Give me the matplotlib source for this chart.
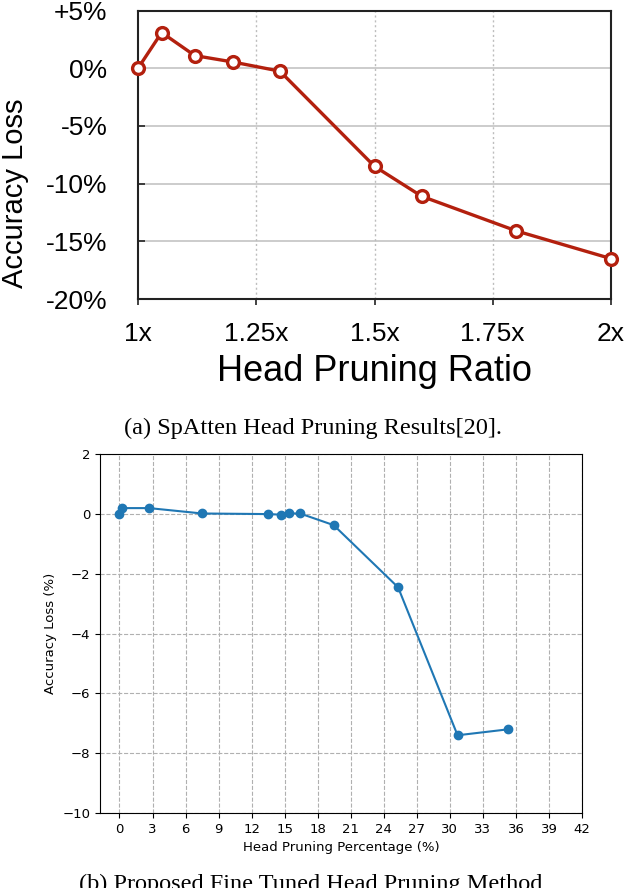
import matplotlib
matplotlib.use("Agg")
import matplotlib.pyplot as plt
import numpy as np

# ---- data (a) SpAtten ----
ratio_x = [1.0, 1.05, 1.12, 1.2, 1.3, 1.5, 1.6, 1.8, 2.0]
spatten_loss = [0.0, 3.1, 1.1, 0.55, -0.25, -8.5, -11.1, -14.1, -16.5]
ratio_ticks = [1.0, 1.25, 1.5, 1.75, 2.0]
ratio_labels = ["1x", "1.25x", "1.5x", "1.75x", "2x"]
loss_ticks_a = [5, 0, -5, -10, -15, -20]
loss_labels_a = ["+5%", "0%", "-5%", "-10%", "-15%", "-20%"]

# ---- data (b) proposed ----
pct_x = [0.0, 0.27, 2.7, 7.5, 13.5, 14.7, 15.4, 16.4, 19.45, 25.3, 30.7, 35.3]
proposed_loss = [0.0, 0.2, 0.2, 0.02, 0.0, -0.02, 0.02, 0.02, -0.37, -2.45, -7.4, -7.2]
pct_ticks = list(range(0, 43, 3))
loss_ticks_b = list(range(-10, 3, 2))

W, H = 626, 888
fig = plt.figure(figsize=(W / 100, H / 100), dpi=100)

def frac(l, t, r, b):
    return [l / W, 1 - b / H, (r - l) / W, (b - t) / H]

# ---------- top chart ----------
sans = "Liberation Sans"
red = "#b3200e"
ax1 = fig.add_axes(frac(138, 10.6, 611, 299))
ax1.plot(ratio_x, spatten_loss, color=red, lw=2.4, marker="o", ms=8.5,
         mfc="white", mec=red, mew=2.4, zorder=3, clip_on=False)
ax1.set_xlim(1.0, 2.0)
ax1.set_ylim(-20, 5)
ax1.set_xticks(ratio_ticks)
ax1.set_xticklabels(ratio_labels, fontfamily=sans, fontsize=19)
ax1.set_yticks(loss_ticks_a)
ax1.set_yticklabels(loss_labels_a, fontfamily=sans, fontsize=19)
ax1.tick_params(axis="x", length=4, width=1.2, pad=12.5, color="#222222")
ax1.tick_params(axis="y", direction="in", length=5, width=1.2, pad=22, color="#222222")
for yv in [0, -5, -10, -15]:
    ax1.axhline(yv, color="#c8c8c8", lw=1.3, zorder=1)
for xv in [1.25, 1.5, 1.75]:
    ax1.axvline(xv, color="#bdbdbd", lw=1.0, ls=(0, (1.5, 2)), zorder=1)
for s in ax1.spines.values():
    s.set_color("#222222")
    s.set_linewidth(1.5)
ax1.set_xlabel("Head Pruning Ratio", fontfamily=sans, fontsize=26)
ax1.xaxis.set_label_coords(0.5, -0.19)
fig.text(15, H - 193, "Accuracy Loss", transform=None, rotation=90,
         fontfamily=sans, fontsize=21, ha="center", va="center")

fig.text(313, H - 428, "(a) SpAtten Head Pruning Results[20].", transform=None,
         fontfamily="Liberation Serif", fontsize=17.5, ha="center", va="center")

# ---------- bottom chart ----------
blue = "#1f77b4"
dv = "DejaVu Sans"
ax2 = fig.add_axes(frac(100, 454.3, 582, 813))
ax2.plot(pct_x, proposed_loss, color=blue, lw=1.5, marker="o", ms=6, zorder=3)
ax2.set_xticks(pct_ticks)
ax2.set_xlim(-1.77, 42)
ax2.set_ylim(-10, 2)
ax2.set_yticks(loss_ticks_b)
ax2.tick_params(labelsize=9.5)
for lab in ax2.get_xticklabels() + ax2.get_yticklabels():
    lab.set_fontfamily(dv)
ax2.grid(True, color="#b0b0b0", ls="--", lw=0.8)
ax2.set_axisbelow(True)
ax2.set_xlabel("Head Pruning Percentage (%)", fontfamily=dv, fontsize=9.5)
ax2.set_ylabel("Accuracy Loss (%)", fontfamily=dv, fontsize=9.5)

fig.text(311, -1.5, "(b) Proposed Fine Tuned Head Pruning Method", transform=None,
         fontfamily="Liberation Serif", fontsize=17.5, ha="center", va="baseline")

fig.savefig("out.png", dpi=100)
